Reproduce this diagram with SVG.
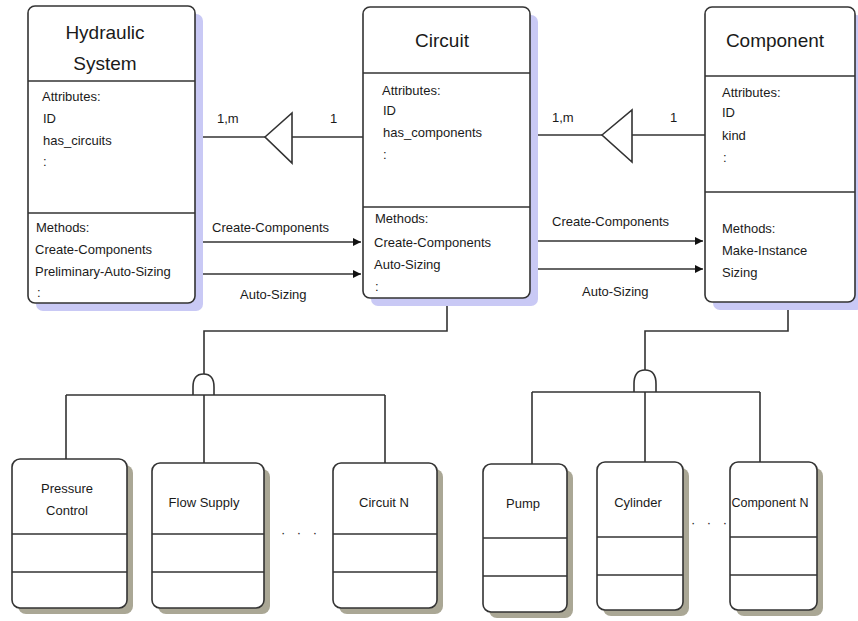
<svg xmlns="http://www.w3.org/2000/svg" width="858" height="621" viewBox="0 0 858 621">
<defs>
<style>
.box{fill:#fff;stroke:#333;stroke-width:1.6}
.sh1{fill:#c9c9f5}
.sh2{fill:#aaa795}
.div{stroke:#333;stroke-width:1.6}
.ln{fill:none;stroke:#333;stroke-width:1.6}
.tri{fill:#fff;stroke:#333;stroke-width:1.6}
.t{font-family:"Liberation Sans",Arial,sans-serif;fill:#1a1a1a}
.title{font-size:19px;text-anchor:middle}
.s{font-size:13px}
.c{text-anchor:middle}
</style>
<marker id="ah" viewBox="0 0 10 10" refX="10" refY="5" markerWidth="9" markerHeight="8" markerUnits="userSpaceOnUse" orient="auto">
<path d="M0,0 L10,5 L0,10 z" fill="#111"/>
</marker>
</defs>
<rect width="858" height="621" fill="#fff"/>

<g id="connectors">
<line class="ln" x1="195" y1="137" x2="363" y2="137"/>
<polygon class="tri" points="265,137 292,113 292,163"/>
<line class="ln" x1="530" y1="135" x2="705" y2="135"/>
<polygon class="tri" points="602,135 632,110 632,162"/>
<line class="ln" x1="195" y1="242" x2="361" y2="242" marker-end="url(#ah)"/>
<line class="ln" x1="195" y1="274" x2="361" y2="274" marker-end="url(#ah)"/>
<line class="ln" x1="530" y1="241" x2="703" y2="241" marker-end="url(#ah)"/>
<line class="ln" x1="530" y1="269" x2="703" y2="269" marker-end="url(#ah)"/>
<text class="t s" x="217" y="123">1,m</text>
<text class="t s" x="330" y="123">1</text>
<text class="t s" x="552" y="122">1,m</text>
<text class="t s" x="670" y="122">1</text>
<text class="t s" x="212" y="232">Create-Components</text>
<text class="t s" x="240" y="299">Auto-Sizing</text>
<text class="t s" x="552" y="226">Create-Components</text>
<text class="t s" x="582" y="296">Auto-Sizing</text>
<path class="ln" d="M447,298 V331 H204 V374"/>
<path class="ln" d="M193,395 V387 Q193,374 203.5,374 Q214,374 214,387 V395"/>
<path class="ln" d="M66,395 H385 M66,395 V459 M204,395 V463 M385,395 V463"/>
<path class="ln" d="M788,302 V331 H645 V370"/>
<path class="ln" d="M634,392 V384 Q634,370 645,370 Q656,370 656,384 V392"/>
<path class="ln" d="M532,392 H760 M532,392 V464 M645,392 V462 M760,392 V462"/>
<text class="t c" x="301" y="537" font-size="13" letter-spacing="4">· · ·</text>
<text class="t c" x="711" y="527" font-size="13" letter-spacing="4">· · ·</text>
</g>

<g id="hydraulic-system">
<rect class="sh1" x="36" y="14" width="167" height="297" rx="7"/>
<rect class="box" x="28" y="6" width="167" height="297" rx="7"/>
<line class="div" x1="28" y1="81" x2="195" y2="81"/>
<line class="div" x1="28" y1="213" x2="195" y2="213"/>
<text class="t title" x="105" y="39">Hydraulic</text>
<text class="t title" x="105" y="70">System</text>
<text class="t s" x="42" y="101">Attributes:</text>
<text class="t s" x="43" y="123">ID</text>
<text class="t s" x="43" y="145">has_circuits</text>
<text class="t s" x="43" y="166">:</text>
<text class="t s" x="36" y="232">Methods:</text>
<text class="t s" x="35" y="254">Create-Components</text>
<text class="t s" x="35" y="276">Preliminary-Auto-Sizing</text>
<text class="t s" x="37" y="297">:</text>
</g>

<g id="circuit">
<rect class="sh1" x="371" y="15" width="167" height="291" rx="7"/>
<rect class="box" x="363" y="7" width="167" height="291" rx="7"/>
<line class="div" x1="363" y1="73" x2="530" y2="73"/>
<line class="div" x1="363" y1="207" x2="530" y2="207"/>
<text class="t title" x="442" y="47">Circuit</text>
<text class="t s" x="382" y="95">Attributes:</text>
<text class="t s" x="383" y="115">ID</text>
<text class="t s" x="383" y="137">has_components</text>
<text class="t s" x="383" y="159">:</text>
<text class="t s" x="375" y="223">Methods:</text>
<text class="t s" x="374" y="247">Create-Components</text>
<text class="t s" x="374" y="269">Auto-Sizing</text>
<text class="t s" x="375" y="291">:</text>
</g>

<g id="component">
<rect class="sh1" x="713" y="15" width="150" height="295" rx="7"/>
<rect class="box" x="705" y="7" width="150" height="295" rx="7"/>
<line class="div" x1="705" y1="76" x2="855" y2="76"/>
<line class="div" x1="705" y1="192" x2="855" y2="192"/>
<text class="t title" x="775" y="47">Component</text>
<text class="t s" x="722" y="97">Attributes:</text>
<text class="t s" x="722" y="117">ID</text>
<text class="t s" x="722" y="140">kind</text>
<text class="t s" x="723" y="162">:</text>
<text class="t s" x="722" y="233">Methods:</text>
<text class="t s" x="722" y="255">Make-Instance</text>
<text class="t s" x="722" y="277">Sizing</text>
</g>

<g id="pressure-control">
<rect class="sh2" x="18" y="465" width="115" height="149" rx="8"/>
<rect class="box" x="12" y="459" width="115" height="149" rx="8"/>
<line class="div" x1="12" y1="534" x2="127" y2="534"/>
<line class="div" x1="12" y1="572" x2="127" y2="572"/>
<text class="t s c" x="67" y="493">Pressure</text>
<text class="t s c" x="67" y="515">Control</text>
</g>

<g id="flow-supply">
<rect class="sh2" x="158" y="469" width="112" height="145" rx="8"/>
<rect class="box" x="152" y="463" width="112" height="145" rx="8"/>
<line class="div" x1="152" y1="534" x2="264" y2="534"/>
<line class="div" x1="152" y1="572" x2="264" y2="572"/>
<text class="t s c" x="204" y="507">Flow Supply</text>
</g>

<g id="circuit-n">
<rect class="sh2" x="339" y="469" width="104" height="145" rx="8"/>
<rect class="box" x="333" y="463" width="104" height="145" rx="8"/>
<line class="div" x1="333" y1="534" x2="437" y2="534"/>
<line class="div" x1="333" y1="572" x2="437" y2="572"/>
<text class="t s c" x="384" y="507">Circuit N</text>
</g>

<g id="pump">
<rect class="sh2" x="489" y="470" width="84" height="148" rx="8"/>
<rect class="box" x="483" y="464" width="84" height="148" rx="8"/>
<line class="div" x1="483" y1="538" x2="567" y2="538"/>
<line class="div" x1="483" y1="576" x2="567" y2="576"/>
<text class="t s c" x="523" y="508">Pump</text>
</g>

<g id="cylinder">
<rect class="sh2" x="603" y="468" width="86" height="148" rx="8"/>
<rect class="box" x="597" y="462" width="86" height="148" rx="8"/>
<line class="div" x1="597" y1="537" x2="683" y2="537"/>
<line class="div" x1="597" y1="575" x2="683" y2="575"/>
<text class="t s c" x="638" y="507">Cylinder</text>
</g>

<g id="component-n">
<rect class="sh2" x="736" y="468" width="87" height="148" rx="8"/>
<rect class="box" x="730" y="462" width="87" height="148" rx="8"/>
<line class="div" x1="730" y1="537" x2="817" y2="537"/>
<line class="div" x1="730" y1="575" x2="817" y2="575"/>
<text class="t c" font-size="12.5" x="770" y="507">Component N</text>
</g>
</svg>
